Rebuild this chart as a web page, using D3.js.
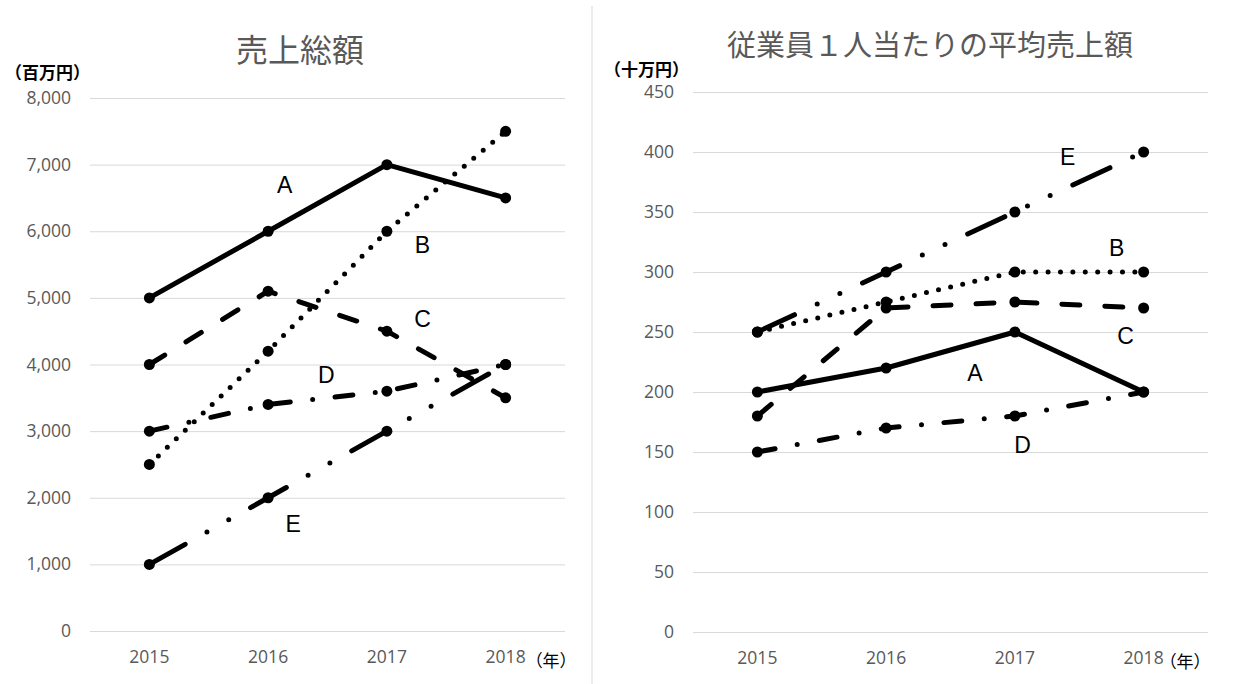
<!DOCTYPE html>
<html>
<head>
<meta charset="utf-8">
<script src="https://cdn.jsdelivr.net/npm/d3@7"></script>
<style>
  body { margin: 0; background: #fff; }
  svg { display: block; }
  .grid line { stroke: #d9d9d9; stroke-width: 1; }
  .tick text { fill: #595959; font-family: "Open Sans", "Noto Sans", sans-serif; font-size: 17.5px; }
</style>
</head>
<body>
<svg id="chart"></svg>
<script>
// data
var years = ["2015", "2016", "2017", "2018"];
var names = ["A", "B", "C", "D", "E"];

// 売上総額 (百万円)
var totalA = [5000, 6000, 7000, 6500];
var totalB = [2500, 4200, 6000, 7500];
var totalC = [4000, 5100, 4500, 3500];
var totalD = [3000, 3400, 3600, 4000];
var totalE = [1000, 2000, 3000, 4000];
var totalTicks = [0, 1000, 2000, 3000, 4000, 5000, 6000, 7000, 8000];

// 従業員1人当たりの平均売上額 (十万円)
var perA = [200, 220, 250, 200];
var perB = [250, 275, 300, 300];
var perC = [180, 270, 275, 270];
var perD = [150, 170, 180, 200];
var perE = [250, 300, 350, 400];
var perTicks = [0, 50, 100, 150, 200, 250, 300, 350, 400, 450];

// label anchors in data space: [year index, value]
var totalLabelPos = [[1.14, 6700], [2.3, 5800], [2.3, 4680], [1.49, 3840], [1.21, 1600]];
var perLabelPos = [[1.69, 216], [2.79, 320], [2.86, 247], [2.06, 156], [2.41, 396]];

var dashes = {A: null, B: "0,12.4", C: "18,25", D: "18,22.5,0,22.5", E: "41,25,0,25,0,25"};

var W = 1235, H = 684;
var svg = d3.select('#chart').attr('width', W).attr('height', H);
svg.append('rect').attr('width', W).attr('height', H).attr('fill', '#fff');

// divider
svg.append('line')
  .attr('x1', 592).attr('x2', 592).attr('y1', 6).attr('y2', H)
  .attr('stroke', '#d9d9d9').attr('stroke-width', 1);

function drawChart(opt){
  var g = svg.append('g');

  var x = d3.scaleBand().domain(years).range([opt.left, opt.right]);
  var bw = x.bandwidth();
  var xc = function(i){ return opt.left + (i + 0.5) * bw; };
  var y = d3.scaleLinear().domain([0, opt.max]).range([opt.bottom, opt.top]);

  // grid + y labels
  g.append('g')
    .attr('class', 'grid')
    .attr('transform', 'translate(' + opt.left + ',0)')
    .call(d3.axisLeft(y).tickValues(opt.ticks).tickSize(-(opt.right - opt.left)).tickPadding(19).tickFormat(opt.fmt))
    .call(function(a){ a.select('.domain').remove(); });

  // x labels
  g.append('g')
    .attr('transform', 'translate(0,' + opt.bottom + ')')
    .call(d3.axisBottom(x).tickSize(0).tickPadding(20))
    .call(function(a){ a.select('.domain').remove(); });

  g.append('text')
    .attr('x', x('2018') + bw / 2 + opt.yearOff)
    .attr('y', opt.bottom + 36)
    .attr('font-family', '"Noto Sans CJK JP", sans-serif')
    .attr('font-size', 17)
    .attr('fill', '#000')
    .text('（年）');

  // title
  g.append('text')
    .attr('x', opt.titleX).attr('y', opt.titleY)
    .attr('text-anchor', 'middle')
    .attr('font-family', '"Noto Sans CJK JP", sans-serif')
    .attr('font-size', opt.titleSize)
    .attr('fill', '#595959')
    .text(opt.title);

  // unit
  g.append('text')
    .attr('x', opt.unitX).attr('y', opt.unitY)
    .attr('font-family', '"Noto Sans CJK JP", sans-serif')
    .attr('font-size', 17)
    .attr('font-weight', 'bold')
    .attr('fill', '#000')
    .text(opt.unit);

  var line = d3.line()
    .x(function(d, i){ return xc(i); })
    .y(function(d){ return y(d); });

  opt.series.forEach(function(vals, k){
    var name = names[k];
    var p = g.append('path')
      .attr('d', line(vals))
      .attr('fill', 'none')
      .attr('stroke', '#000')
      .attr('stroke-width', 5)
      .attr('stroke-linejoin', 'round')
      .attr('stroke-linecap', 'round');
    if(dashes[name]) p.attr('stroke-dasharray', dashes[name]);

    g.selectAll(null)
      .data(vals)
      .enter().append('circle')
      .attr('cx', function(d, i){ return xc(i); })
      .attr('cy', function(d){ return y(d); })
      .attr('r', 5.5)
      .attr('fill', '#000');
  });

  opt.labels.forEach(function(pos, k){
    g.append('text')
      .attr('x', xc(pos[0]))
      .attr('y', y(pos[1]))
      .attr('text-anchor', 'middle')
      .attr('dominant-baseline', 'central')
      .attr('font-family', '"Liberation Sans", Arial, sans-serif')
      .attr('font-size', 23)
      .attr('fill', '#000')
      .text(names[k]);
  });
}

drawChart({
  left: 90, right: 565, top: 98, bottom: 631, max: 8000,
  ticks: totalTicks, fmt: d3.format(','),
  series: [totalA, totalB, totalC, totalD, totalE],
  labels: totalLabelPos,
  title: '売上総額', titleX: 300, titleY: 62, titleSize: 32,
  unit: '（百万円）', unitX: 5, unitY: 79, yearOff: 20
});

drawChart({
  left: 693, right: 1208, top: 92, bottom: 632, max: 450,
  ticks: perTicks, fmt: d3.format('d'),
  series: [perA, perB, perC, perD, perE],
  labels: perLabelPos,
  title: '従業員１人当たりの平均売上額', titleX: 930, titleY: 56, titleSize: 29,
  unit: '（十万円）', unitX: 604, unitY: 76, yearOff: 16
});
</script>
</body>
</html>
